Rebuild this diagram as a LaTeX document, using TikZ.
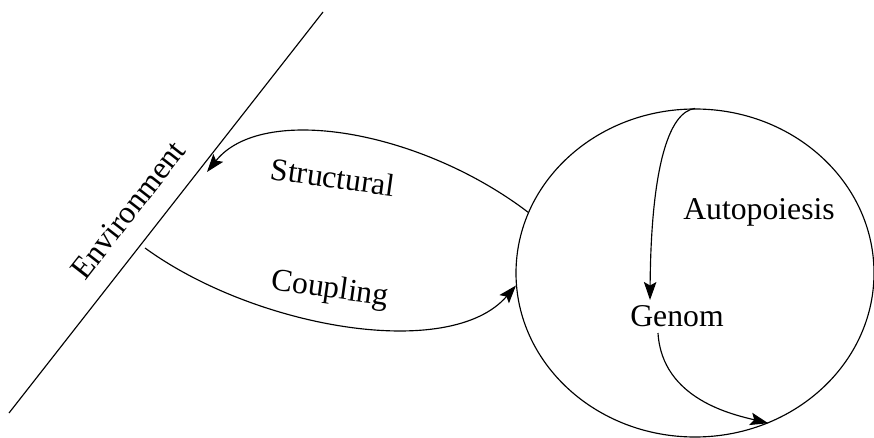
\documentclass[tikz,border=0pt]{standalone}
\usepackage{fontspec}
\setmainfont{Liberation Serif}
\usetikzlibrary{shapes.geometric,arrows.meta}
\begin{document}
\begin{tikzpicture}[x=1pt,y=-1pt,
  line width=1.15pt,
  lbl/.style={font=\fontsize{31.7}{36}\selectfont, inner sep=0pt},
  flow/.style={-{Stealth[length=18pt,width=12.5pt,inset=3.5pt]}},
]
\useasboundingbox (0,0) rectangle (874,438);

% cell boundary
\node[draw, ellipse, minimum width=358pt, minimum height=328pt, inner sep=0pt] (cell) at (695,273) {};

% environment boundary
\coordinate (envA) at (9,413);
\coordinate (envB) at (323,12);
\draw (envA) -- (envB);
\node[lbl, rotate=52] (env) at (128,210) {Environment};

% structural coupling loop
\coordinate (envIn) at (207,172);
\coordinate (envOut) at (145,248);
\draw[flow] (cell.160) .. controls (420,130) and (262,103) .. (envIn);
\draw[flow] (envOut) .. controls (255,328) and (450,362) .. (cell.184);
\node[lbl, rotate=-8] (structural) at (333,177) {Structural};
\node[lbl, rotate=-8] (coupling) at (330,290) {Coupling};

% inside the cell
\node[lbl] (auto) at (759,212) {Autopoiesis};
\node[lbl] (genom) at (677,316) {Genom};
\coordinate (genIn) at (650,300);
\coordinate (genOut) at (658,333);
\draw[flow] (cell.north) .. controls (668,112) and (651,170) .. (genIn);
\draw[flow] (genOut) .. controls (662,400) and (735,415) .. (cell.296);
\end{tikzpicture}
\end{document}
